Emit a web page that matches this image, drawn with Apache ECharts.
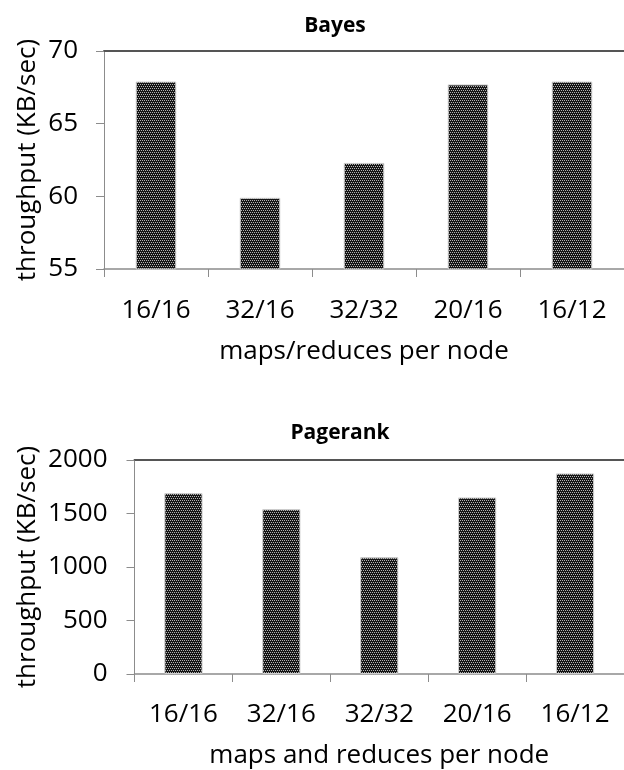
<!DOCTYPE html>
<html>
<head>
<meta charset="utf-8">
<script src="https://cdn.jsdelivr.net/npm/echarts@6/dist/echarts.min.js"></script>
<style>
  html, body { margin: 0; padding: 0; background: #fff; }
  #chart { width: 624px; height: 770px; }
</style>
</head>
<body>
<div id="chart"></div>
<script>
// Throughput per maps/reduces configuration for the Bayes and Pagerank workloads
const categories = ['16/16', '32/16', '32/32', '20/16', '16/12'];
const bayesValues = [67.9, 59.9, 62.3, 67.7, 67.9];
const pagerankValues = [1690, 1540, 1090, 1650, 1875];
const bayesTicks = { min: 55, max: 70, interval: 5 };
const pagerankTicks = { min: 0, max: 2000, interval: 500 };

// Dotted dark fill for the bars
function dotPattern() {
  const c = document.createElement('canvas');
  c.width = 4; c.height = 4;
  const g = c.getContext('2d');
  g.fillStyle = '#151515';
  g.fillRect(0, 0, 4, 4);
  g.fillStyle = '#b4b4b4';
  g.fillRect(0, 0, 1, 1);
  g.fillRect(2, 0, 1, 1);
  g.fillRect(1, 2, 1, 1);
  g.fillRect(3, 2, 1, 1);
  return c;
}
const pattern = { image: dotPattern(), repeat: 'repeat' };

const FONT = 'Open Sans';
const axisGray = '#8c8c8c';

function valueAxis(gridIndex, ticks, nameGap, labelMargin) {
  return {
    type: 'value', gridIndex,
    min: ticks.min, max: ticks.max, interval: ticks.interval,
    name: 'throughput (KB/sec)',
    nameLocation: 'middle', nameGap, nameMoveOverlap: false,
    nameTextStyle: { fontFamily: FONT, fontSize: 26, color: '#000' },
    axisLine: { show: true, lineStyle: { color: axisGray, width: 1 } },
    axisTick: { show: true, length: 8, lineStyle: { color: axisGray } },
    axisLabel: { margin: labelMargin, align: 'right',
      fontFamily: FONT, fontSize: 26, color: '#000',
      formatter: v => String(v) },
    splitLine: { show: false }
  };
}
function categoryAxis(gridIndex, name, labelMargin, nameGap) {
  return {
    type: 'category', gridIndex, data: categories,
    name, nameLocation: 'middle', nameGap,
    nameTextStyle: { fontFamily: FONT, fontSize: 26, color: '#000' },
    axisLine: { show: true, lineStyle: { color: axisGray, width: 1.5 } },
    axisTick: { show: true, length: 8, lineStyle: { color: axisGray } },
    axisLabel: { margin: labelMargin, fontFamily: FONT, fontSize: 26, color: '#000' }
  };
}
// Dark frame line along the top of each plot area
function topBorder(gridIndex) {
  return {
    type: 'category', gridIndex, position: 'top', data: categories,
    axisLine: { show: true, lineStyle: { color: '#555', width: 2 } },
    axisTick: { show: false }, axisLabel: { show: false }
  };
}
function barSeries(axisIndex, values) {
  return {
    type: 'bar', xAxisIndex: axisIndex, yAxisIndex: axisIndex,
    data: values, barWidth: '39%',
    itemStyle: { color: pattern, borderColor: '#cfcfcf', borderWidth: 1 },
    emphasis: { disabled: true }, animation: false
  };
}

const chart = echarts.init(document.getElementById('chart'), null, { renderer: 'canvas' });
chart.setOption({
  animation: false,
  title: [
    { text: 'Bayes', left: 330, top: 11, textAlign: 'center',
      textStyle: { fontFamily: FONT, fontSize: 21, fontWeight: 'bold', color: '#000' } },
    { text: 'Pagerank', left: 335, top: 418, textAlign: 'center',
      textStyle: { fontFamily: FONT, fontSize: 21, fontWeight: 'bold', color: '#000' } }
  ],
  grid: [
    { left: 104, right: -1, top: 51, height: 218 },
    { left: 134.5, right: -1, top: 460, height: 215 }
  ],
  xAxis: [
    categoryAxis(0, 'maps/reduces per node', 29, 70),
    categoryAxis(1, 'maps and reduces per node', 28, 69),
    topBorder(0),
    topBorder(1)
  ],
  yAxis: [
    valueAxis(0, bayesTicks, 63, 26),
    valueAxis(1, pagerankTicks, 94, 27)
  ],
  series: [
    barSeries(0, bayesValues),
    barSeries(1, pagerankValues)
  ]
});
</script>
</body>
</html>
